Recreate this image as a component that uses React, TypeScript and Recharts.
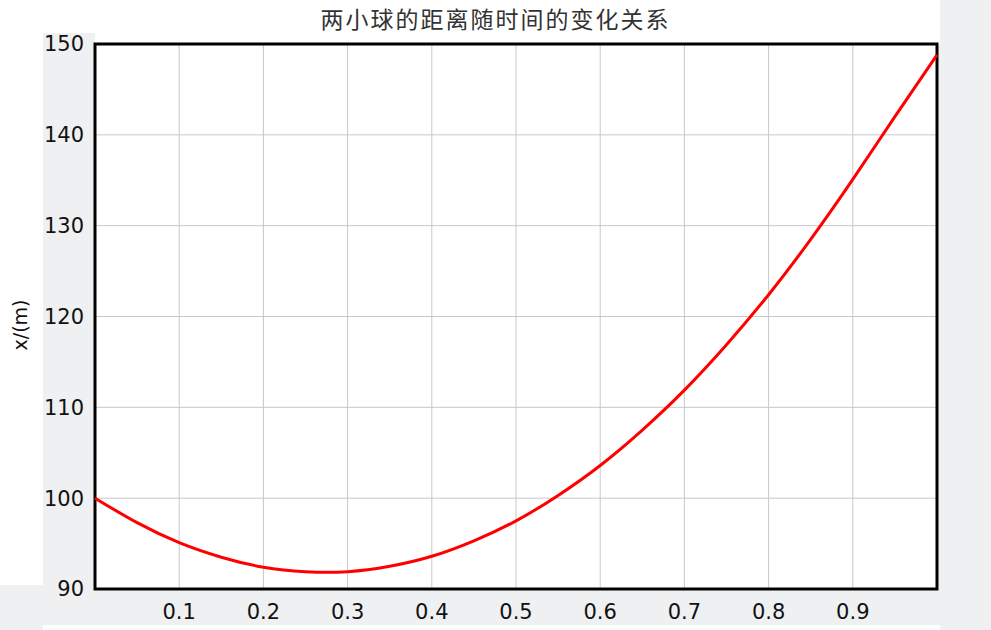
import React from 'react';
import { LineChart, Line, XAxis, YAxis, CartesianGrid, ReferenceArea } from 'recharts';

const times = [0, 0.05, 0.1, 0.15, 0.2, 0.25, 0.3, 0.35, 0.4, 0.45, 0.5, 0.55, 0.6, 0.65, 0.7, 0.75, 0.8, 0.85, 0.9, 0.95, 1.0];
const distances = [100, 97.3, 95.1, 93.5, 92.4, 91.9, 91.9, 92.5, 93.6, 95.3, 97.5, 100.3, 103.6, 107.5, 111.9, 116.9, 122.4, 128.5, 135.1, 142.0, 148.8];
const xTicks = [0.1, 0.2, 0.3, 0.4, 0.5, 0.6, 0.7, 0.8, 0.9];
const yTicks = [90, 100, 110, 120, 130, 140, 150];
const title = '两小球的距离随时间的变化关系';
const yLabel = 'x/(m)';

const data = times.map((t, i) => ({ t, d: distances[i] }));

const GRAY = '#eff0f2';
const FONT = '"DejaVu Sans", Verdana, sans-serif';

export default function App() {
  return (
    <div style={{ position: 'absolute', left: 0, top: 0, width: 991, height: 630, background: GRAY, overflow: 'hidden' }}>
      <div style={{ position: 'absolute', left: 0, top: 0, width: 940, height: 33, background: '#fff' }} />
      <div style={{ position: 'absolute', left: 0, top: 0, width: 43, height: 585, background: '#fff' }} />
      <div style={{ position: 'absolute', left: 95, top: 33, width: 845, height: 12, background: '#fff' }} />
      <div style={{ position: 'absolute', left: 43, top: 625, width: 897, height: 5, background: '#fff' }} />
      <div style={{ position: 'absolute', left: 0, top: 0, width: 991 }}>
        <LineChart width={991} height={630} data={data} margin={{ top: 44, right: 54, bottom: 0, left: 40 }}>
          <CartesianGrid stroke="#c8c8c8" fill="#ffffff" horizontal vertical />
          <XAxis
            dataKey="t"
            type="number"
            domain={[0, 1]}
            ticks={xTicks}
            tickLine={false}
            axisLine={false}
            height={41}
            tickSize={8}
            tickMargin={7}
            tick={{ fill: '#111', fontSize: 21, fontFamily: FONT }}
          />
          <YAxis
            type="number"
            domain={[90, 150]}
            ticks={yTicks}
            tickLine={false}
            axisLine={false}
            width={55}
            tickSize={6}
            tickMargin={5}
            tick={{ fill: '#111', fontSize: 21, fontFamily: FONT }}
          />
          <ReferenceArea x1={0} x2={1} y1={90} y2={150} fill="none" stroke="#000" strokeWidth={3} ifOverflow="visible" />
          <Line type="natural" dataKey="d" stroke="#ff0000" strokeWidth={3} dot={false} isAnimationActive={false} />
        </LineChart>
      </div>
      <div style={{ position: 'absolute', left: 0, top: 3, width: 991, textAlign: 'center', fontFamily: '"Noto Sans CJK SC", sans-serif', fontSize: 23, letterSpacing: 2, color: '#333', lineHeight: '30px' }}>
        {title}
      </div>
      <div style={{ position: 'absolute', left: 20, top: 325, transform: 'translate(-50%, -50%) rotate(-90deg)', fontFamily: FONT, fontSize: 19, color: '#111', whiteSpace: 'nowrap' }}>
        {yLabel}
      </div>
    </div>
  );
}
